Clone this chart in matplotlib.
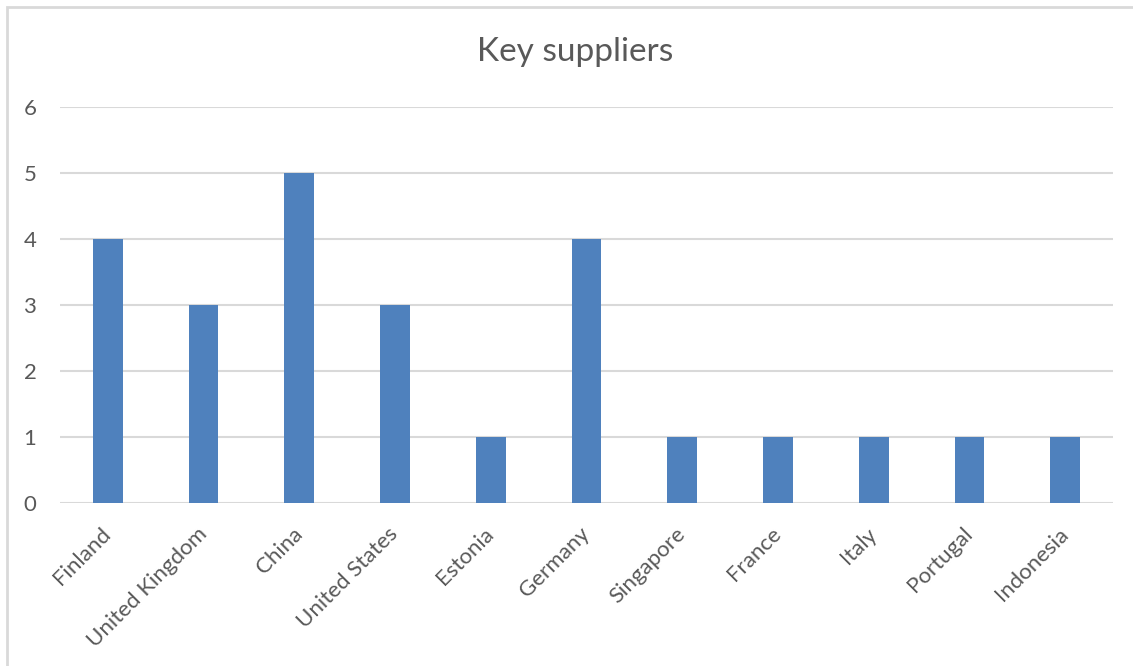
import matplotlib.pyplot as plt
from matplotlib.patches import Rectangle

countries = ["Finland", "United Kingdom", "China", "United States", "Estonia",
             "Germany", "Singapore", "France", "Italy", "Portugal", "Indonesia"]
counts = [4, 3, 5, 3, 1, 4, 1, 1, 1, 1, 1]
yticks = [0, 1, 2, 3, 4, 5, 6]

plt.rcParams['font.family'] = ['Lato', 'DejaVu Sans']
text_col = '#595959'
grid_col = '#d9d9d9'

fig = plt.figure(figsize=(11.33, 6.66), dpi=100)

# chart border (Excel style)
fig.patches.append(Rectangle((7/1133, -0.05), 1.2, 1 - 7/666 + 0.05,
                             transform=fig.transFigure, fill=False,
                             edgecolor=grid_col, linewidth=2))

ax = fig.add_axes([60/1133, 1 - 503/666, (1113 - 60)/1133, (503 - 107)/666])
x = range(len(countries))
ax.bar(x, counts, width=0.31, color='#4f81bd', zorder=3)

ax.set_xlim(-0.5, len(countries) - 0.5)
ax.set_ylim(0, 6)
ax.set_yticks(yticks)
ax.set_yticklabels([str(t) for t in yticks], fontsize=16, color=text_col)
ax.set_xticks(list(x))
ax.set_xticklabels(countries, rotation=45, ha='right', va='center',
                   rotation_mode='anchor', fontsize=16, color=text_col)
ax.tick_params(axis='both', length=0)
ax.tick_params(axis='x', pad=20)
ax.tick_params(axis='y', pad=17)
ax.grid(axis='y', color=grid_col, linewidth=1.5, zorder=0)
for s in ax.spines.values():
    s.set_visible(False)

fig.text(575/1133, 1 - 52/666, "Key suppliers", ha='center', va='center',
         fontsize=24, color=text_col)

plt.savefig('out.png', dpi=100)
